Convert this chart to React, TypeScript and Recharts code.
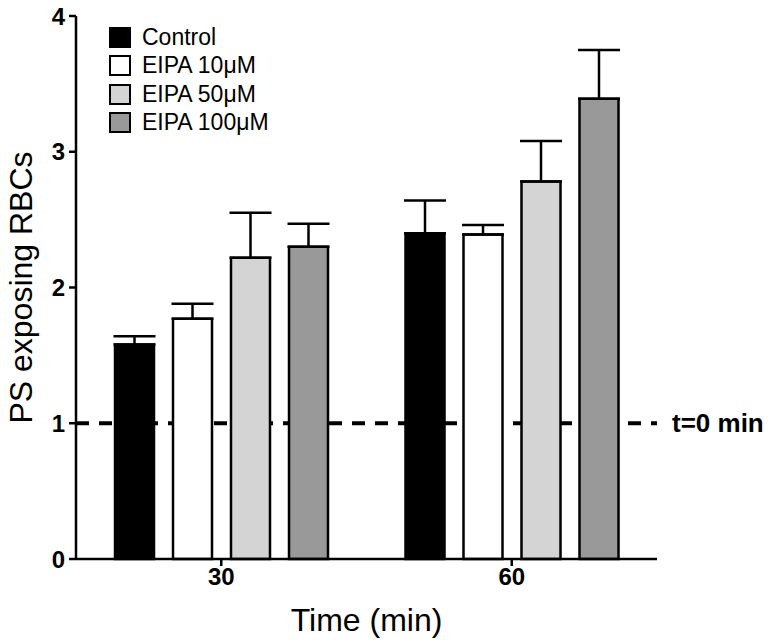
import React from "react";
import {
  BarChart,
  Bar,
  XAxis,
  YAxis,
  ErrorBar,
  ReferenceLine,
} from "recharts";

const categories = ["30", "60"];
const control = [1.58, 2.4];
const controlErr = [0.06, 0.24];
const eipa10 = [1.77, 2.39];
const eipa10Err = [0.11, 0.07];
const eipa50 = [2.22, 2.78];
const eipa50Err = [0.33, 0.3];
const eipa100 = [2.3, 3.39];
const eipa100Err = [0.17, 0.36];
const yTicks = [0, 1, 2, 3, 4];

const FONT = "'Liberation Sans', Arial, Helvetica, sans-serif";

const series = [
  { key: "control", name: "Control", color: "#000000" },
  { key: "eipa10", name: "EIPA 10\u03bcM", color: "#ffffff" },
  { key: "eipa50", name: "EIPA 50\u03bcM", color: "#d4d4d4" },
  { key: "eipa100", name: "EIPA 100\u03bcM", color: "#999999" },
];

const data = categories.map((time, i) => ({
  time,
  control: control[i],
  controlErr: [0, controlErr[i]],
  eipa10: eipa10[i],
  eipa10Err: [0, eipa10Err[i]],
  eipa50: eipa50[i],
  eipa50Err: [0, eipa50Err[i]],
  eipa100: eipa100[i],
  eipa100Err: [0, eipa100Err[i]],
}));

// legend drawn as a plain overlay so it doesn't eat the plot margin
const LegendBox = () => (
  <div
    style={{
      position: "absolute",
      left: 109,
      top: 23,
      fontFamily: FONT,
      pointerEvents: "none",
    }}
  >
    {series.map((s) => (
      <div
        key={s.key}
        style={{ display: "flex", alignItems: "center", height: 28.5 }}
      >
        <div
          style={{
            width: 18,
            height: 17,
            background: s.color,
            border: "2px solid #000",
            marginRight: 11,
          }}
        />
        <span style={{ fontSize: 23, color: "#000", lineHeight: "23px" }}>
          {s.name}
        </span>
      </div>
    ))}
  </div>
);

export default function App() {
  return (
    <div
      style={{
        position: "absolute",
        left: 0,
        top: 0,
        width: 773,
        height: 640,
        background: "#fff",
      }}
    >
      <BarChart
        width={773}
        height={640}
        data={data}
        margin={{ top: 16, right: 116, bottom: 0, left: 0 }}
        barSize={39}
        barGap={19}
        style={{ fontFamily: FONT }}
      >
        <ReferenceLine
          y={1}
          stroke="#000"
          strokeWidth={4}
          strokeDasharray="13 10"
          zIndex={-10}
          label={{
            value: "t=0 min",
            position: "right",
            offset: 15,
            fill: "#000",
            fontSize: 26,
            fontWeight: "bold",
          }}
        />
        <XAxis
          dataKey="time"
          height={81}
          axisLine={{ stroke: "#000", strokeWidth: 2.5 }}
          tickLine={{ stroke: "#000", strokeWidth: 2.5 }}
          tickSize={7}
          tick={{ fill: "#000", fontSize: 24, fontWeight: "bold" }}
          label={{
            value: "Time (min)",
            position: "insideBottom",
            offset: 9,
            fill: "#000",
            fontSize: 32,
          }}
        />
        <YAxis
          width={76}
          domain={[0, 4]}
          ticks={yTicks}
          interval={0}
          axisLine={{ stroke: "#000", strokeWidth: 2.5 }}
          tickLine={{ stroke: "#000", strokeWidth: 2.5 }}
          tickSize={7}
          tickMargin={4}
          tick={{ fill: "#000", fontSize: 24, fontWeight: "bold" }}
          label={{
            value: "PS exposing RBCs",
            angle: -90,
            position: "insideLeft",
            offset: 21,
            fill: "#000",
            fontSize: 32,
            style: { textAnchor: "middle" },
          }}
        />
        {series.map((s) => (
          <Bar
            key={s.key}
            dataKey={s.key}
            name={s.name}
            fill={s.color}
            stroke="#000"
            strokeWidth={2.5}
            isAnimationActive={false}
          >
            <ErrorBar
              dataKey={`${s.key}Err`}
              direction="y"
              width={21}
              stroke="#000"
              strokeWidth={2.5}
            />
          </Bar>
        ))}
      </BarChart>
      <LegendBox />
    </div>
  );
}
